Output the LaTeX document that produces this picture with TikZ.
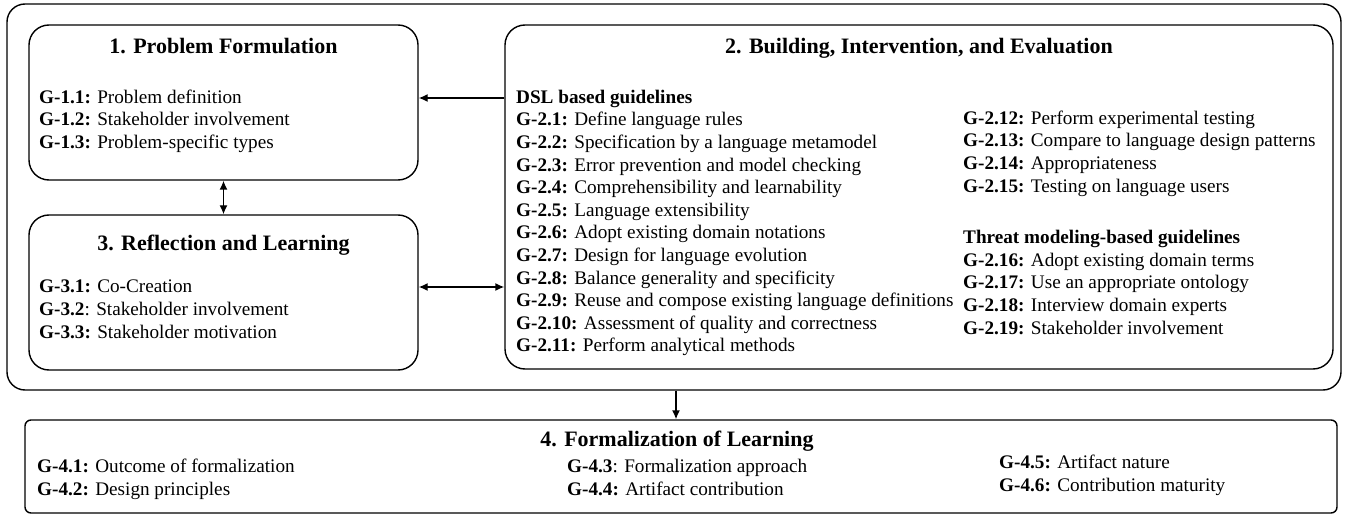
\documentclass[tikz,border=0pt]{standalone}
\usepackage{fontspec}
\setmainfont{Liberation Serif}
\usetikzlibrary{arrows.meta}

\tikzset{
  box/.style={draw, line width=1.4pt, rounded corners=20pt, inner sep=0pt},
  outerbox/.style={draw, line width=1.4pt, rounded corners=18pt, inner sep=0pt},
  flatbox/.style={draw, line width=1.4pt, rounded corners=6pt, inner sep=0pt},
  heading/.style={anchor=base, inner sep=0pt, font=\fontsize{22}{26}\selectfont\bfseries},
  items/.style={anchor=north west, inner sep=0pt, align=left, font=\fontsize{19.2}{22.6}\selectfont},
  link/.style={line width=1.4pt, -{Latex[length=9pt,width=8pt]}},
  duallink/.style={line width=1.4pt, {Latex[length=9pt,width=8pt]}-{Latex[length=9pt,width=8pt]}}
}

\begin{document}
\begin{tikzpicture}[x=1pt,y=-1pt]
\useasboundingbox (0,0) rectangle (1345,516);

% frame around the first three activities
\node[outerbox, minimum width=1334pt, minimum height=386pt] (outer) at (674,197) {};

% activity boxes
\node[box, minimum width=389pt, minimum height=155pt] (b1) at (223.5,102.5) {};
\node[box, minimum width=389pt, minimum height=155pt] (b3) at (223.5,292.5) {};
\node[box, minimum width=828pt, minimum height=344pt] (b2) at (919,197) {};
\node[flatbox, minimum width=1312pt, minimum height=93pt] (b4) at (681,466.5) {};

% headings
\node[heading] (t1) at (223.5,54) {1. Problem Formulation};
\node[heading] (t2) at (919,54) {2. Building, Intervention, and Evaluation};
\node[heading] (t3) at (223.5,250) {3. Reflection and Learning};
\node[heading] (t4) at (677,446) {4. Formalization of Learning};

% guideline lists
\node[items] (l1) at (39,89.5) {%
  \textbf{G-1.1:} Problem definition\\
  \textbf{G-1.2:} Stakeholder involvement\\
  \textbf{G-1.3:} Problem-specific types};

\node[items] (l3) at (39,280) {%
  \textbf{G-3.1:} Co-Creation\\
  \textbf{G-3.2}: Stakeholder involvement\\
  \textbf{G-3.3:} Stakeholder motivation};

\node[items] (l2a) at (516,89.8) {%
  \textbf{DSL based guidelines}\\
  \textbf{G-2.1:} Define language rules\\
  \textbf{G-2.2:} Specification by a language metamodel\\
  \textbf{G-2.3:} Error prevention and model checking\\
  \textbf{G-2.4:} Comprehensibility and learnability\\
  \textbf{G-2.5:} Language extensibility\\
  \textbf{G-2.6:} Adopt existing domain notations\\
  \textbf{G-2.7:} Design for language evolution\\
  \textbf{G-2.8:} Balance generality and specificity\\
  \textbf{G-2.9:} Reuse and compose existing language definitions\\
  \textbf{G-2.10:} Assessment of quality and correctness\\
  \textbf{G-2.11:} Perform analytical methods};

\node[items] (l2b) at (963,110.5) {%
  \textbf{G-2.12:} Perform experimental testing\\
  \textbf{G-2.13:} Compare to language design patterns\\
  \textbf{G-2.14:} Appropriateness\\
  \textbf{G-2.15:} Testing on language users};

\node[items, font=\fontsize{19.2}{22.7}\selectfont] (l2c) at (963,229.8) {%
  \textbf{Threat modeling-based guidelines}\\
  \textbf{G-2.16:} Adopt existing domain terms\\
  \textbf{G-2.17:} Use an appropriate ontology\\
  \textbf{G-2.18:} Interview domain experts\\
  \textbf{G-2.19:} Stakeholder involvement};

\node[items] (l4a) at (37,459) {%
  \textbf{G-4.1:} Outcome of formalization\\
  \textbf{G-4.2:} Design principles};

\node[items] (l4b) at (567,459) {%
  \textbf{G-4.3}: Formalization approach\\
  \textbf{G-4.4:} Artifact contribution};

\node[items] (l4c) at (999,455) {%
  \textbf{G-4.5:} Artifact nature\\
  \textbf{G-4.6:} Contribution maturity};

% connector heights
\coordinate (r1) at (0,98);
\coordinate (r2) at (0,287);
\coordinate (r3) at (676,0);

\draw[link] (b2.west |- r1) -- (b1.east |- r1);
\draw[duallink] (b1.south) -- (b3.north);
\draw[duallink] (b3.east |- r2) -- (b2.west |- r2);
\draw[link] (outer.south -| r3) -- (b4.north -| r3);
\end{tikzpicture}
\end{document}
